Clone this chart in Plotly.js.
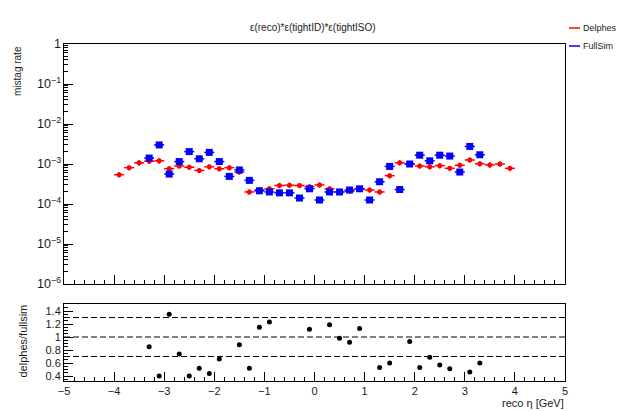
<!DOCTYPE html>
<html>
<head>
<meta charset="utf-8">
<script src="https://cdn.plot.ly/plotly-3.0.1.min.js"></script>
<style>html,body{margin:0;padding:0;background:#fff;}#plot{width:619px;height:411px;}</style>
</head>
<body>
<div id="plot"></div>
<script>
// ---- data ----
var etaDelphes = [-3.9,-3.7,-3.5,-3.3,-3.1,-2.9,-2.7,-2.5,-2.3,-2.1,-1.9,-1.7,-1.5,-1.3,-1.1,-0.9,-0.7,-0.5,-0.3,-0.1,
                  0.1,0.3,0.5,0.7,0.9,1.1,1.3,1.5,1.7,1.9,2.1,2.3,2.5,2.7,2.9,3.1,3.3,3.5,3.7,3.9];
var rateDelphes = [5.4e-4,8.1e-4,1.07e-3,1.17e-3,1.2e-3,7.6e-4,8.9e-4,8.3e-4,6.9e-4,8.5e-4,7.6e-4,8.1e-4,6.3e-4,2.0e-4,2.24e-4,2.4e-4,2.9e-4,2.95e-4,2.9e-4,2.7e-4,
                   3.0e-4,2.4e-4,2.0e-4,2.1e-4,2.4e-4,2.24e-4,2.0e-4,5.1e-4,1.07e-3,1.0e-3,8.9e-4,8.5e-4,9.1e-4,7.8e-4,9.3e-4,1.26e-3,1.02e-3,9.5e-4,1.0e-3,7.8e-4];
var etaFullSim = [-3.3,-3.1,-2.9,-2.7,-2.5,-2.3,-2.1,-1.9,-1.7,-1.5,-1.3,-1.1,-0.9,-0.7,-0.5,-0.3,-0.1,
                  0.1,0.3,0.5,0.7,0.9,1.1,1.3,1.5,1.7,1.9,2.1,2.3,2.5,2.7,2.9,3.1,3.3];
var rateFullSim = [1.41e-3,3.0e-3,5.6e-4,1.15e-3,2.04e-3,1.35e-3,1.95e-3,1.15e-3,4.9e-4,7.1e-4,3.9e-4,2.14e-4,2.0e-4,1.9e-4,1.9e-4,1.41e-4,2.4e-4,
                   1.26e-4,2.0e-4,2.0e-4,2.24e-4,2.4e-4,1.26e-4,3.6e-4,8.7e-4,2.3e-4,1.0e-3,1.66e-3,1.2e-3,1.66e-3,1.58e-3,6.3e-4,2.75e-3,1.7e-3];
var etaRatio = [-3.3,-3.1,-2.9,-2.7,-2.5,-2.3,-2.1,-1.9,-1.5,-1.3,-1.1,-0.9,-0.7,-0.1,0.3,0.5,0.7,0.9,1.3,1.5,1.9,2.1,2.3,2.5,2.7,2.9,3.1,3.3];
var ratioVal = [0.85,0.40,1.35,0.74,0.40,0.52,0.44,0.66,0.88,0.52,1.15,1.23,1.51,1.12,1.19,0.98,0.92,1.13,0.53,0.60,0.93,0.53,0.69,0.57,0.51,1.51,0.46,0.60];
var refLines = [0.7, 1.0, 1.3];
var seriesNames = ['Delphes', 'FullSim'];
var binHalfWidth = 0.1;

var W = 619, H = 411;
function px(x){return x/W;}
function py(y){return (H-y)/H;}
var FONT = 'Liberation Sans, Arial, sans-serif';
var TXT = '#1a1a1a';
var COLORS = ['#ff0000', '#0000ff'];

var traces = [
  {x: etaDelphes, y: rateDelphes, xaxis:'x', yaxis:'y', type:'scatter', mode:'markers', name:seriesNames[0],
   marker:{color:COLORS[0], size:5, symbol:'circle'},
   error_x:{type:'constant', value:binHalfWidth, color:COLORS[0], thickness:1.5, width:0},
   error_y:{type:'percent', value:15, color:COLORS[0], thickness:1.5, width:0}, cliponaxis:false},
  {x: etaFullSim, y: rateFullSim, xaxis:'x', yaxis:'y', type:'scatter', mode:'markers', name:seriesNames[1],
   marker:{color:COLORS[1], size:7, symbol:'square'},
   error_x:{type:'constant', value:binHalfWidth, color:COLORS[1], thickness:1.5, width:0},
   error_y:{type:'percent', value:15, color:COLORS[1], thickness:1.5, width:0}, cliponaxis:false},
  {x: etaRatio, y: ratioVal, xaxis:'x2', yaxis:'y2', type:'scatter', mode:'markers', name:'ratio',
   marker:{color:'#000000', size:5, symbol:'circle'}, cliponaxis:false}
];

var shapes = refLines.map(function(v){
  return {type:'line', xref:'x2', yref:'y2', x0:-5, x1:5, y0:v, y1:v, line:{color:'#000', width:1, dash:'6px,3px'}};
});

// legend (ROOT style: short line key + label at the right edge)
var legendY = [28, 46];
var annotations = [];
seriesNames.forEach(function(n, i){
  shapes.push({type:'line', xref:'paper', yref:'paper', x0:px(569), x1:px(580), y0:py(legendY[i]), y1:py(legendY[i]), line:{color:COLORS[i], width:1.5}});
  annotations.push({text:n, xref:'paper', yref:'paper', x:px(581), y:py(legendY[i]), xanchor:'left', yanchor:'middle', showarrow:false, font:{size:9}});
});

var commonX = {range:[-5,5], tick0:-5, dtick:1, ticks:'inside', ticklen:9, tickcolor:'#000', tickwidth:1,
  minor:{ticks:'inside', dtick:0.2, ticklen:4, tickcolor:'#000'},
  showline:true, linecolor:'#000', linewidth:1, mirror:true, showgrid:false, zeroline:false};

var layout = {
  width:W, height:H, margin:{l:0,r:0,t:0,b:0}, paper_bgcolor:'#fff', plot_bgcolor:'#fff',
  font:{family:FONT, color:TXT, size:10},
  showlegend:false,
  xaxis: Object.assign({}, commonX, {domain:[px(64), px(565)], anchor:'y', showticklabels:false}),
  yaxis: {type:'log', range:[-6,0], domain:[py(284), py(44)], anchor:'x', tickmode:'linear', tick0:0, dtick:1, exponentformat:'power',
          ticks:'inside', ticklen:9, tickcolor:'#000', minor:{ticks:'inside', ticklen:4, dtick:'D1', tickcolor:'#000'},
          showline:true, linecolor:'#000', linewidth:1, mirror:true, showgrid:false, zeroline:false, tickfont:{size:10}},
  xaxis2: Object.assign({}, commonX, {domain:[px(64), px(565)], anchor:'y2', tickfont:{size:11}}),
  yaxis2: {range:[0.323,1.508], domain:[py(381), py(304)], anchor:'x2', tick0:0.4, dtick:0.2, ticks:'inside', ticklen:9, tickcolor:'#000',
           minor:{ticks:'inside', dtick:0.05, ticklen:4, tickcolor:'#000'},
           showline:true, linecolor:'#000', linewidth:1, mirror:true, showgrid:false, zeroline:false, tickfont:{size:11}},
  shapes: shapes,
  annotations: annotations.concat([
    {text:'ε(reco)*ε(tightID)*ε(tightISO)', xref:'paper', yref:'paper', x:px(313), y:py(27), xanchor:'center', yanchor:'middle', showarrow:false, font:{size:10}},
    {text:'mistag rate', xref:'paper', yref:'paper', x:px(17), y:py(44), xanchor:'center', yanchor:'top', textangle:-90, showarrow:false, font:{size:10}},
    {text:'delphes/fullsim', xref:'paper', yref:'paper', x:px(22), y:py(303), xanchor:'center', yanchor:'top', textangle:-90, showarrow:false, font:{size:11}},
    {text:'reco η [GeV]', xref:'paper', yref:'paper', x:px(566), y:py(403), xanchor:'right', yanchor:'middle', showarrow:false, font:{size:11}}
  ])
};

Plotly.newPlot('plot', traces, layout, {staticPlot:true, displayModeBar:false});
</script>
</body>
</html>
